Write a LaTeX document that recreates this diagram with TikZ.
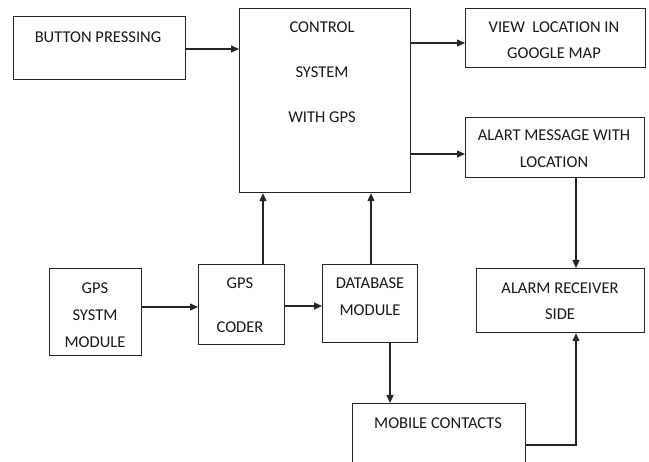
\documentclass[tikz,border=0pt]{standalone}
\usepackage{fontspec}
\setmainfont{Carlito}
\usetikzlibrary{arrows.meta}
\begin{document}
\begin{tikzpicture}[x=1pt,y=-1pt,
  blk/.style={draw=black!85,line width=1.2pt,rectangle,inner sep=0pt,anchor=north west},
  txt/.style={font=\fontsize{16.5}{16.5}\selectfont,text=black!90,inner sep=0pt},
  arr/.style={draw=black!85,line width=1.2pt,-{Triangle[length=8pt,width=7pt]}},
  ln/.style={draw=black!85,line width=1.2pt}]
\useasboundingbox (0,0) rectangle (649,462);
\fill[white] (0,0) rectangle (649,462);
% boxes
\node[blk,minimum width=172pt,minimum height=63pt] (btn) at (13,16) {};
\node[blk,minimum width=171pt,minimum height=184pt] (ctl) at (239,8) {};
\node[blk,minimum width=180pt,minimum height=59pt] (view) at (465,8) {};
\node[blk,minimum width=179pt,minimum height=60pt] (alart) at (465,117) {};
\node[blk,minimum width=168pt,minimum height=64pt] (recv) at (476,268) {};
\node[blk,minimum width=92pt,minimum height=87pt] (gpsm) at (49,268) {};
\node[blk,minimum width=86pt,minimum height=80pt] (coder) at (198,264) {};
\node[blk,minimum width=95pt,minimum height=78pt] (db) at (322,264) {};
\node[blk,minimum width=173pt,minimum height=64pt] (mob) at (352,403) {};
% texts
\node[txt] (t1) at (98,37) {BUTTON PRESSING};
\node[txt] (t2) at (322,27) {CONTROL};
\node[txt] (t3) at (322,72) {SYSTEM};
\node[txt] (t4) at (322,117) {WITH GPS};
\node[txt] (t5) at (554,27) {VIEW\ \ LOCATION IN};
\node[txt] (t6) at (554,53) {GOOGLE MAP};
\node[txt] (t7) at (554,135) {ALART MESSAGE WITH};
\node[txt] (t8) at (554,162) {LOCATION};
\node[txt] (t9) at (560,288) {ALARM RECEIVER};
\node[txt] (t10) at (560,314) {SIDE};
\node[txt] (t11) at (95,288) {GPS};
\node[txt] (t12) at (95,315) {SYSTM};
\node[txt] (t13) at (95,342) {MODULE};
\node[txt] (t14) at (240,283) {GPS};
\node[txt] (t15) at (240,327) {CODER};
\node[txt] (t16) at (370,283) {DATABASE};
\node[txt] (t17) at (370,310) {MODULE};
\node[txt] (t18) at (438,423) {MOBILE CONTACTS};
% connectors
\draw[arr] (btn.east |- 0,49) -- (ctl.west |- 0,49);
\draw[arr] (ctl.east |- 0,43) -- (view.west |- 0,43);
\draw[arr] (ctl.east |- 0,154) -- (alart.west |- 0,154);
\draw[arr] (alart.south -| 576,0) -- (recv.north -| 576,0);
\draw[arr] (gpsm.east |- 0,307) -- (coder.west |- 0,307);
\draw[arr] (coder.east |- 0,306) -- (db.west |- 0,306);
\draw[arr] (coder.north -| 263,0) -- (ctl.south -| 263,0);
\draw[arr] (db.north -| 371,0) -- (ctl.south -| 371,0);
\draw[arr] (db.south -| 390,0) -- (mob.north -| 390,0);
\coordinate (corner) at (576,445);
\draw[arr] (mob.east |- corner) -- (corner) -- (recv.south -| corner);
\end{tikzpicture}
\end{document}
